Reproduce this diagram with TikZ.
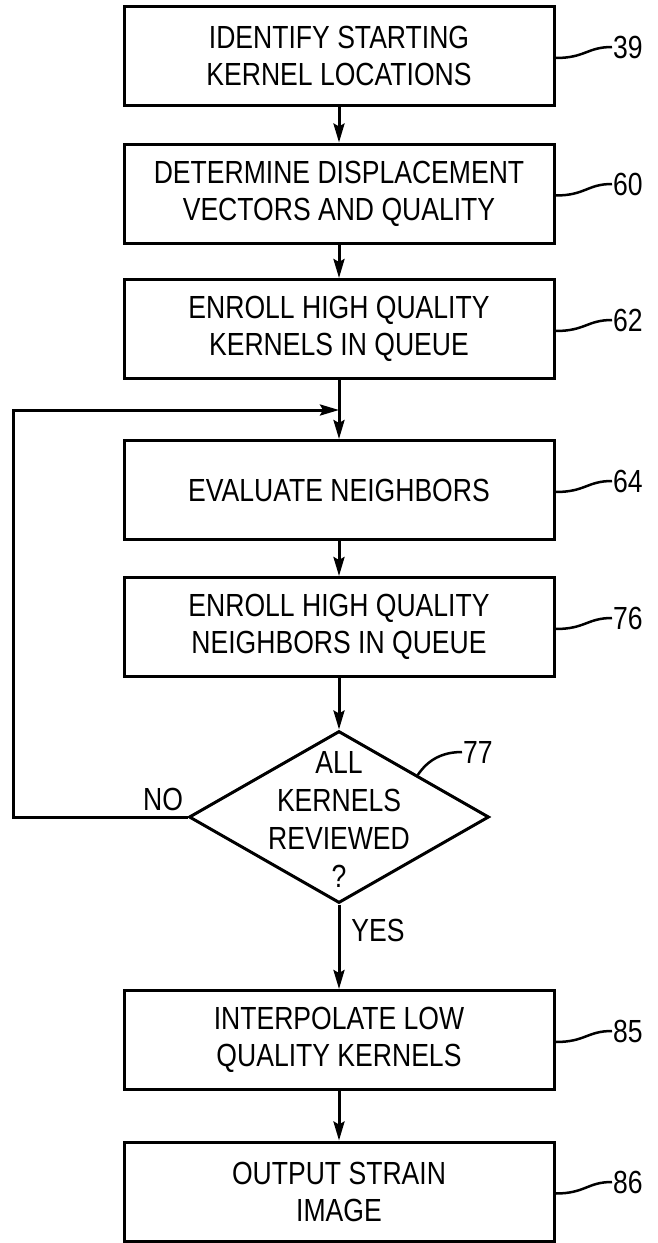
\documentclass[tikz,border=0pt]{standalone}
\usepackage{fontspec}
\setmainfont{Liberation Sans}[FakeStretch=0.83]
\usetikzlibrary{arrows.meta,shapes.geometric,calc}
\begin{document}
\begin{tikzpicture}[x=1pt,y=-1pt,
  box/.style={draw,line width=3pt,minimum width=430pt,minimum height=99pt,inner sep=0pt,align=center,font=\fontsize{32}{37}\selectfont},
  dec/.style={draw,diamond,line width=3pt,minimum width=300pt,minimum height=172pt,inner sep=0pt},
  dtext/.style={align=center,inner sep=0pt,font=\fontsize{32}{38}\selectfont},
  conn/.style={line width=3pt,-{Stealth[length=19pt,width=11pt,inset=3pt]}},
  lead/.style={line width=2.5pt},
  num/.style={font=\fontsize{32}{37}\selectfont,anchor=west,inner sep=1pt},
  lbl/.style={font=\fontsize{32}{37}\selectfont,inner sep=0pt}]
\useasboundingbox (0,0) rectangle (657,1243);
\fill[white] (0,0) rectangle (657,1243);

\node[box] (b39) at (339,56) {IDENTIFY STARTING\\KERNEL LOCATIONS};
\node[box] (b60) at (339,193.5) {DETERMINE DISPLACEMENT\\VECTORS AND QUALITY};
\node[box] (b62) at (339,329) {ENROLL HIGH QUALITY\\KERNELS IN QUEUE};
\node[box] (b64) at (339,490) {EVALUATE NEIGHBORS};
\node[box] (b76) at (339,627) {ENROLL HIGH QUALITY\\NEIGHBORS IN QUEUE};
\node[dec] (d77) at (339,817) {};
\node[dtext] (t77) at (339,819) {ALL\\KERNELS\\REVIEWED\\?};
\node[box] (b85) at (339,1040) {INTERPOLATE LOW\\QUALITY KERNELS};
\node[box] (b86) at (339,1191.5) {OUTPUT STRAIN\\IMAGE};

\coordinate (j) at (339,410);
\coordinate (lc) at (13,817);

\draw[conn] (b39) -- (b60);
\draw[conn] (b60) -- (b62);
\draw[conn] (b62) -- (b64);
\draw[conn] (b64) -- (b76);
\draw[conn] (b76) -- (d77);
\draw[conn] (d77) -- (b85);
\draw[conn] (b85) -- (b86);
\draw[conn] (d77.west) -- (lc) |- (j);

\node[lbl] (no) at (163,799) {NO};
\node[lbl] (yes) at (378,930) {YES};

\node[num] (n39) at (612,47) {39};
\node[num] (n60) at (612,184) {60};
\node[num] (n62) at (612,320) {62};
\node[num] (n64) at (612,481) {64};
\node[num] (n76) at (612,618) {76};
\node[num] (n85) at (612,1031) {85};
\node[num] (n86) at (612,1182) {86};
\node[num] (n77) at (462,752) {77};

\foreach \b/\n in {b39/n39,b60/n60,b62/n62,b64/n64,b76/n76,b85/n85,b86/n86}
  \draw[lead] ([yshift=-2pt]\b.east) .. controls +(30,0) and +(-25,0) .. (\n.west);
\draw[lead] ($(d77.north)!0.52!(d77.east)$) .. controls +(10,-15) and +(-20,0) .. (n77.west);
\end{tikzpicture}
\end{document}
